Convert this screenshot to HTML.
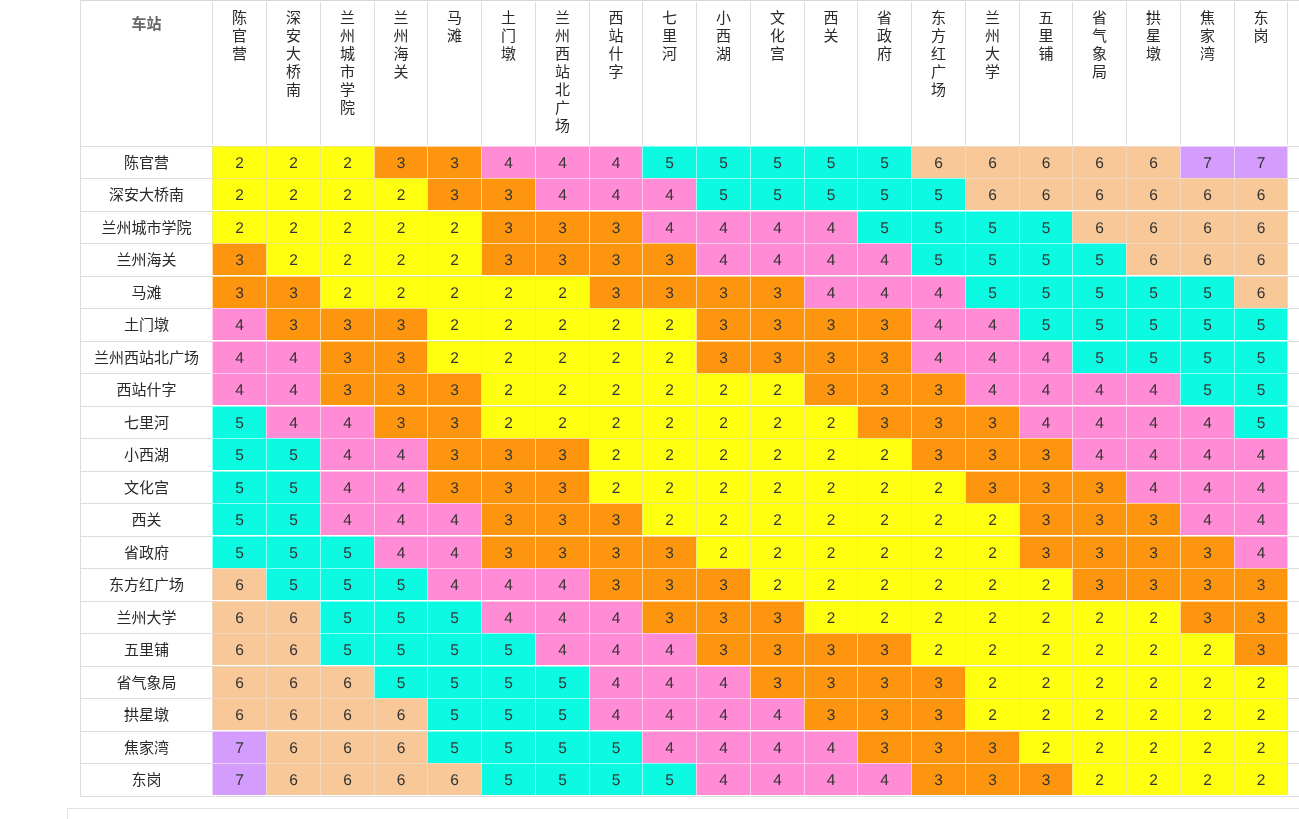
<!DOCTYPE html><html lang="zh-CN"><head><meta charset="utf-8"><title>票价表</title><style>
html,body{margin:0;padding:0;background:#fff;}
body{width:1299px;height:819px;overflow:hidden;position:relative;font-family:"Liberation Sans","Noto Sans CJK SC",sans-serif;color:#333;font-size:15px;}
#t div{position:absolute;text-align:center;white-space:nowrap;}
#t .h{color:#2a2a2a;top:2px;height:143px;border-left:1px solid #ddd;box-sizing:border-box;}
#t .h span{display:block;width:16px;margin:7px auto 0;line-height:18px;white-space:normal;word-break:break-all;}
#t .h0{left:81px;top:1px;width:131px;height:145px;font-weight:bold;color:#666;line-height:20px;}
#t .h0 span{display:block;margin-top:13px;}
#t .r{color:#2a2a2a;left:81px;width:131px;line-height:31px;height:32px;}
#t .c{text-rendering:geometricPrecision;font-size:15.5px;box-sizing:border-box;border-style:solid;border-width:1px 0 0 1px;}
#t .c.l{border-right-width:1px;}
.f2{background:#ffff10;border-color:#ebeb73;}
.f3{background:#fd960e;border-color:#ffd591;}
.f4{background:#ff8cd4;border-color:#ffc8ec;}
.f5{background:#0cfae2;border-color:#8cfff6;}
.f6{background:#f8c898;border-color:#f1d9c1;}
.f7{background:#d49cfc;border-color:#ebcfff;}
#t .lh{left:80px;width:1219px;height:1px;background:#ddd;}
#t .lh.t{background:#d8d8d8;}
#t .lv{left:80px;top:0;width:1px;height:797px;background:#ddd;}
#box{position:absolute;left:67px;top:808px;width:1300px;height:40px;border:1px solid #e3e3e3;}
</style></head><body><div id="t">
<div class="h0"><span>车站</span></div>
<div class="h" style="left:212px;width:54px"><span>陈官营</span></div>
<div class="h" style="left:266px;width:54px"><span>深安大桥南</span></div>
<div class="h" style="left:320px;width:54px"><span>兰州城市学院</span></div>
<div class="h" style="left:374px;width:53px"><span>兰州海关</span></div>
<div class="h" style="left:427px;width:54px"><span>马滩</span></div>
<div class="h" style="left:481px;width:54px"><span>土门墩</span></div>
<div class="h" style="left:535px;width:54px"><span>兰州西站北广场</span></div>
<div class="h" style="left:589px;width:53px"><span>西站什字</span></div>
<div class="h" style="left:642px;width:54px"><span>七里河</span></div>
<div class="h" style="left:696px;width:54px"><span>小西湖</span></div>
<div class="h" style="left:750px;width:54px"><span>文化宫</span></div>
<div class="h" style="left:804px;width:53px"><span>西关</span></div>
<div class="h" style="left:857px;width:54px"><span>省政府</span></div>
<div class="h" style="left:911px;width:54px"><span>东方红广场</span></div>
<div class="h" style="left:965px;width:54px"><span>兰州大学</span></div>
<div class="h" style="left:1019px;width:53px"><span>五里铺</span></div>
<div class="h" style="left:1072px;width:54px"><span>省气象局</span></div>
<div class="h" style="left:1126px;width:54px"><span>拱星墩</span></div>
<div class="h" style="left:1180px;width:54px"><span>焦家湾</span></div>
<div class="h" style="left:1234px;width:53px"><span>东岗</span></div>
<div class="h" style="left:1287px;width:1px"></div>
<div class="lh t" style="top:0px"></div>
<div class="lh" style="top:146px"></div>
<div class="lh" style="top:178px"></div>
<div class="lh" style="top:211px"></div>
<div class="lh" style="top:243px"></div>
<div class="lh" style="top:276px"></div>
<div class="lh" style="top:308px"></div>
<div class="lh" style="top:341px"></div>
<div class="lh" style="top:373px"></div>
<div class="lh" style="top:406px"></div>
<div class="lh" style="top:438px"></div>
<div class="lh" style="top:471px"></div>
<div class="lh" style="top:503px"></div>
<div class="lh" style="top:536px"></div>
<div class="lh" style="top:568px"></div>
<div class="lh" style="top:601px"></div>
<div class="lh" style="top:633px"></div>
<div class="lh" style="top:666px"></div>
<div class="lh" style="top:698px"></div>
<div class="lh" style="top:731px"></div>
<div class="lh" style="top:763px"></div>
<div class="lh" style="top:796px"></div>
<div class="r" style="top:147px;height:31px;line-height:31px">陈官营</div>
<div class="c f2" style="left:212px;top:146px;width:54px;height:32px;line-height:33px">2</div>
<div class="c f2" style="left:266px;top:146px;width:54px;height:32px;line-height:33px">2</div>
<div class="c f2" style="left:320px;top:146px;width:54px;height:32px;line-height:33px">2</div>
<div class="c f3" style="left:374px;top:146px;width:53px;height:32px;line-height:33px">3</div>
<div class="c f3" style="left:427px;top:146px;width:54px;height:32px;line-height:33px">3</div>
<div class="c f4" style="left:481px;top:146px;width:54px;height:32px;line-height:33px">4</div>
<div class="c f4" style="left:535px;top:146px;width:54px;height:32px;line-height:33px">4</div>
<div class="c f4" style="left:589px;top:146px;width:53px;height:32px;line-height:33px">4</div>
<div class="c f5" style="left:642px;top:146px;width:54px;height:32px;line-height:33px">5</div>
<div class="c f5" style="left:696px;top:146px;width:54px;height:32px;line-height:33px">5</div>
<div class="c f5" style="left:750px;top:146px;width:54px;height:32px;line-height:33px">5</div>
<div class="c f5" style="left:804px;top:146px;width:53px;height:32px;line-height:33px">5</div>
<div class="c f5" style="left:857px;top:146px;width:54px;height:32px;line-height:33px">5</div>
<div class="c f6" style="left:911px;top:146px;width:54px;height:32px;line-height:33px">6</div>
<div class="c f6" style="left:965px;top:146px;width:54px;height:32px;line-height:33px">6</div>
<div class="c f6" style="left:1019px;top:146px;width:53px;height:32px;line-height:33px">6</div>
<div class="c f6" style="left:1072px;top:146px;width:54px;height:32px;line-height:33px">6</div>
<div class="c f6" style="left:1126px;top:146px;width:54px;height:32px;line-height:33px">6</div>
<div class="c f7" style="left:1180px;top:146px;width:54px;height:32px;line-height:33px">7</div>
<div class="c f7 l" style="left:1234px;top:146px;width:54px;height:32px;line-height:33px">7</div>
<div class="r" style="top:179px;height:32px;line-height:32px">深安大桥南</div>
<div class="c f2" style="left:212px;top:178px;width:54px;height:32px;line-height:34px">2</div>
<div class="c f2" style="left:266px;top:178px;width:54px;height:32px;line-height:34px">2</div>
<div class="c f2" style="left:320px;top:178px;width:54px;height:32px;line-height:34px">2</div>
<div class="c f2" style="left:374px;top:178px;width:53px;height:32px;line-height:34px">2</div>
<div class="c f3" style="left:427px;top:178px;width:54px;height:32px;line-height:34px">3</div>
<div class="c f3" style="left:481px;top:178px;width:54px;height:32px;line-height:34px">3</div>
<div class="c f4" style="left:535px;top:178px;width:54px;height:32px;line-height:34px">4</div>
<div class="c f4" style="left:589px;top:178px;width:53px;height:32px;line-height:34px">4</div>
<div class="c f4" style="left:642px;top:178px;width:54px;height:32px;line-height:34px">4</div>
<div class="c f5" style="left:696px;top:178px;width:54px;height:32px;line-height:34px">5</div>
<div class="c f5" style="left:750px;top:178px;width:54px;height:32px;line-height:34px">5</div>
<div class="c f5" style="left:804px;top:178px;width:53px;height:32px;line-height:34px">5</div>
<div class="c f5" style="left:857px;top:178px;width:54px;height:32px;line-height:34px">5</div>
<div class="c f5" style="left:911px;top:178px;width:54px;height:32px;line-height:34px">5</div>
<div class="c f6" style="left:965px;top:178px;width:54px;height:32px;line-height:34px">6</div>
<div class="c f6" style="left:1019px;top:178px;width:53px;height:32px;line-height:34px">6</div>
<div class="c f6" style="left:1072px;top:178px;width:54px;height:32px;line-height:34px">6</div>
<div class="c f6" style="left:1126px;top:178px;width:54px;height:32px;line-height:34px">6</div>
<div class="c f6" style="left:1180px;top:178px;width:54px;height:32px;line-height:34px">6</div>
<div class="c f6 l" style="left:1234px;top:178px;width:54px;height:32px;line-height:34px">6</div>
<div class="r" style="top:212px;height:31px;line-height:31px">兰州城市学院</div>
<div class="c f2" style="left:212px;top:211px;width:54px;height:32px;line-height:33px">2</div>
<div class="c f2" style="left:266px;top:211px;width:54px;height:32px;line-height:33px">2</div>
<div class="c f2" style="left:320px;top:211px;width:54px;height:32px;line-height:33px">2</div>
<div class="c f2" style="left:374px;top:211px;width:53px;height:32px;line-height:33px">2</div>
<div class="c f2" style="left:427px;top:211px;width:54px;height:32px;line-height:33px">2</div>
<div class="c f3" style="left:481px;top:211px;width:54px;height:32px;line-height:33px">3</div>
<div class="c f3" style="left:535px;top:211px;width:54px;height:32px;line-height:33px">3</div>
<div class="c f3" style="left:589px;top:211px;width:53px;height:32px;line-height:33px">3</div>
<div class="c f4" style="left:642px;top:211px;width:54px;height:32px;line-height:33px">4</div>
<div class="c f4" style="left:696px;top:211px;width:54px;height:32px;line-height:33px">4</div>
<div class="c f4" style="left:750px;top:211px;width:54px;height:32px;line-height:33px">4</div>
<div class="c f4" style="left:804px;top:211px;width:53px;height:32px;line-height:33px">4</div>
<div class="c f5" style="left:857px;top:211px;width:54px;height:32px;line-height:33px">5</div>
<div class="c f5" style="left:911px;top:211px;width:54px;height:32px;line-height:33px">5</div>
<div class="c f5" style="left:965px;top:211px;width:54px;height:32px;line-height:33px">5</div>
<div class="c f5" style="left:1019px;top:211px;width:53px;height:32px;line-height:33px">5</div>
<div class="c f6" style="left:1072px;top:211px;width:54px;height:32px;line-height:33px">6</div>
<div class="c f6" style="left:1126px;top:211px;width:54px;height:32px;line-height:33px">6</div>
<div class="c f6" style="left:1180px;top:211px;width:54px;height:32px;line-height:33px">6</div>
<div class="c f6 l" style="left:1234px;top:211px;width:54px;height:32px;line-height:33px">6</div>
<div class="r" style="top:244px;height:32px;line-height:32px">兰州海关</div>
<div class="c f3" style="left:212px;top:243px;width:54px;height:32px;line-height:34px">3</div>
<div class="c f2" style="left:266px;top:243px;width:54px;height:32px;line-height:34px">2</div>
<div class="c f2" style="left:320px;top:243px;width:54px;height:32px;line-height:34px">2</div>
<div class="c f2" style="left:374px;top:243px;width:53px;height:32px;line-height:34px">2</div>
<div class="c f2" style="left:427px;top:243px;width:54px;height:32px;line-height:34px">2</div>
<div class="c f3" style="left:481px;top:243px;width:54px;height:32px;line-height:34px">3</div>
<div class="c f3" style="left:535px;top:243px;width:54px;height:32px;line-height:34px">3</div>
<div class="c f3" style="left:589px;top:243px;width:53px;height:32px;line-height:34px">3</div>
<div class="c f3" style="left:642px;top:243px;width:54px;height:32px;line-height:34px">3</div>
<div class="c f4" style="left:696px;top:243px;width:54px;height:32px;line-height:34px">4</div>
<div class="c f4" style="left:750px;top:243px;width:54px;height:32px;line-height:34px">4</div>
<div class="c f4" style="left:804px;top:243px;width:53px;height:32px;line-height:34px">4</div>
<div class="c f4" style="left:857px;top:243px;width:54px;height:32px;line-height:34px">4</div>
<div class="c f5" style="left:911px;top:243px;width:54px;height:32px;line-height:34px">5</div>
<div class="c f5" style="left:965px;top:243px;width:54px;height:32px;line-height:34px">5</div>
<div class="c f5" style="left:1019px;top:243px;width:53px;height:32px;line-height:34px">5</div>
<div class="c f5" style="left:1072px;top:243px;width:54px;height:32px;line-height:34px">5</div>
<div class="c f6" style="left:1126px;top:243px;width:54px;height:32px;line-height:34px">6</div>
<div class="c f6" style="left:1180px;top:243px;width:54px;height:32px;line-height:34px">6</div>
<div class="c f6 l" style="left:1234px;top:243px;width:54px;height:32px;line-height:34px">6</div>
<div class="r" style="top:277px;height:31px;line-height:31px">马滩</div>
<div class="c f3" style="left:212px;top:276px;width:54px;height:32px;line-height:33px">3</div>
<div class="c f3" style="left:266px;top:276px;width:54px;height:32px;line-height:33px">3</div>
<div class="c f2" style="left:320px;top:276px;width:54px;height:32px;line-height:33px">2</div>
<div class="c f2" style="left:374px;top:276px;width:53px;height:32px;line-height:33px">2</div>
<div class="c f2" style="left:427px;top:276px;width:54px;height:32px;line-height:33px">2</div>
<div class="c f2" style="left:481px;top:276px;width:54px;height:32px;line-height:33px">2</div>
<div class="c f2" style="left:535px;top:276px;width:54px;height:32px;line-height:33px">2</div>
<div class="c f3" style="left:589px;top:276px;width:53px;height:32px;line-height:33px">3</div>
<div class="c f3" style="left:642px;top:276px;width:54px;height:32px;line-height:33px">3</div>
<div class="c f3" style="left:696px;top:276px;width:54px;height:32px;line-height:33px">3</div>
<div class="c f3" style="left:750px;top:276px;width:54px;height:32px;line-height:33px">3</div>
<div class="c f4" style="left:804px;top:276px;width:53px;height:32px;line-height:33px">4</div>
<div class="c f4" style="left:857px;top:276px;width:54px;height:32px;line-height:33px">4</div>
<div class="c f4" style="left:911px;top:276px;width:54px;height:32px;line-height:33px">4</div>
<div class="c f5" style="left:965px;top:276px;width:54px;height:32px;line-height:33px">5</div>
<div class="c f5" style="left:1019px;top:276px;width:53px;height:32px;line-height:33px">5</div>
<div class="c f5" style="left:1072px;top:276px;width:54px;height:32px;line-height:33px">5</div>
<div class="c f5" style="left:1126px;top:276px;width:54px;height:32px;line-height:33px">5</div>
<div class="c f5" style="left:1180px;top:276px;width:54px;height:32px;line-height:33px">5</div>
<div class="c f6 l" style="left:1234px;top:276px;width:54px;height:32px;line-height:33px">6</div>
<div class="r" style="top:309px;height:32px;line-height:32px">土门墩</div>
<div class="c f4" style="left:212px;top:308px;width:54px;height:32px;line-height:34px">4</div>
<div class="c f3" style="left:266px;top:308px;width:54px;height:32px;line-height:34px">3</div>
<div class="c f3" style="left:320px;top:308px;width:54px;height:32px;line-height:34px">3</div>
<div class="c f3" style="left:374px;top:308px;width:53px;height:32px;line-height:34px">3</div>
<div class="c f2" style="left:427px;top:308px;width:54px;height:32px;line-height:34px">2</div>
<div class="c f2" style="left:481px;top:308px;width:54px;height:32px;line-height:34px">2</div>
<div class="c f2" style="left:535px;top:308px;width:54px;height:32px;line-height:34px">2</div>
<div class="c f2" style="left:589px;top:308px;width:53px;height:32px;line-height:34px">2</div>
<div class="c f2" style="left:642px;top:308px;width:54px;height:32px;line-height:34px">2</div>
<div class="c f3" style="left:696px;top:308px;width:54px;height:32px;line-height:34px">3</div>
<div class="c f3" style="left:750px;top:308px;width:54px;height:32px;line-height:34px">3</div>
<div class="c f3" style="left:804px;top:308px;width:53px;height:32px;line-height:34px">3</div>
<div class="c f3" style="left:857px;top:308px;width:54px;height:32px;line-height:34px">3</div>
<div class="c f4" style="left:911px;top:308px;width:54px;height:32px;line-height:34px">4</div>
<div class="c f4" style="left:965px;top:308px;width:54px;height:32px;line-height:34px">4</div>
<div class="c f5" style="left:1019px;top:308px;width:53px;height:32px;line-height:34px">5</div>
<div class="c f5" style="left:1072px;top:308px;width:54px;height:32px;line-height:34px">5</div>
<div class="c f5" style="left:1126px;top:308px;width:54px;height:32px;line-height:34px">5</div>
<div class="c f5" style="left:1180px;top:308px;width:54px;height:32px;line-height:34px">5</div>
<div class="c f5 l" style="left:1234px;top:308px;width:54px;height:32px;line-height:34px">5</div>
<div class="r" style="top:342px;height:31px;line-height:31px">兰州西站北广场</div>
<div class="c f4" style="left:212px;top:341px;width:54px;height:32px;line-height:33px">4</div>
<div class="c f4" style="left:266px;top:341px;width:54px;height:32px;line-height:33px">4</div>
<div class="c f3" style="left:320px;top:341px;width:54px;height:32px;line-height:33px">3</div>
<div class="c f3" style="left:374px;top:341px;width:53px;height:32px;line-height:33px">3</div>
<div class="c f2" style="left:427px;top:341px;width:54px;height:32px;line-height:33px">2</div>
<div class="c f2" style="left:481px;top:341px;width:54px;height:32px;line-height:33px">2</div>
<div class="c f2" style="left:535px;top:341px;width:54px;height:32px;line-height:33px">2</div>
<div class="c f2" style="left:589px;top:341px;width:53px;height:32px;line-height:33px">2</div>
<div class="c f2" style="left:642px;top:341px;width:54px;height:32px;line-height:33px">2</div>
<div class="c f3" style="left:696px;top:341px;width:54px;height:32px;line-height:33px">3</div>
<div class="c f3" style="left:750px;top:341px;width:54px;height:32px;line-height:33px">3</div>
<div class="c f3" style="left:804px;top:341px;width:53px;height:32px;line-height:33px">3</div>
<div class="c f3" style="left:857px;top:341px;width:54px;height:32px;line-height:33px">3</div>
<div class="c f4" style="left:911px;top:341px;width:54px;height:32px;line-height:33px">4</div>
<div class="c f4" style="left:965px;top:341px;width:54px;height:32px;line-height:33px">4</div>
<div class="c f4" style="left:1019px;top:341px;width:53px;height:32px;line-height:33px">4</div>
<div class="c f5" style="left:1072px;top:341px;width:54px;height:32px;line-height:33px">5</div>
<div class="c f5" style="left:1126px;top:341px;width:54px;height:32px;line-height:33px">5</div>
<div class="c f5" style="left:1180px;top:341px;width:54px;height:32px;line-height:33px">5</div>
<div class="c f5 l" style="left:1234px;top:341px;width:54px;height:32px;line-height:33px">5</div>
<div class="r" style="top:374px;height:32px;line-height:32px">西站什字</div>
<div class="c f4" style="left:212px;top:373px;width:54px;height:32px;line-height:34px">4</div>
<div class="c f4" style="left:266px;top:373px;width:54px;height:32px;line-height:34px">4</div>
<div class="c f3" style="left:320px;top:373px;width:54px;height:32px;line-height:34px">3</div>
<div class="c f3" style="left:374px;top:373px;width:53px;height:32px;line-height:34px">3</div>
<div class="c f3" style="left:427px;top:373px;width:54px;height:32px;line-height:34px">3</div>
<div class="c f2" style="left:481px;top:373px;width:54px;height:32px;line-height:34px">2</div>
<div class="c f2" style="left:535px;top:373px;width:54px;height:32px;line-height:34px">2</div>
<div class="c f2" style="left:589px;top:373px;width:53px;height:32px;line-height:34px">2</div>
<div class="c f2" style="left:642px;top:373px;width:54px;height:32px;line-height:34px">2</div>
<div class="c f2" style="left:696px;top:373px;width:54px;height:32px;line-height:34px">2</div>
<div class="c f2" style="left:750px;top:373px;width:54px;height:32px;line-height:34px">2</div>
<div class="c f3" style="left:804px;top:373px;width:53px;height:32px;line-height:34px">3</div>
<div class="c f3" style="left:857px;top:373px;width:54px;height:32px;line-height:34px">3</div>
<div class="c f3" style="left:911px;top:373px;width:54px;height:32px;line-height:34px">3</div>
<div class="c f4" style="left:965px;top:373px;width:54px;height:32px;line-height:34px">4</div>
<div class="c f4" style="left:1019px;top:373px;width:53px;height:32px;line-height:34px">4</div>
<div class="c f4" style="left:1072px;top:373px;width:54px;height:32px;line-height:34px">4</div>
<div class="c f4" style="left:1126px;top:373px;width:54px;height:32px;line-height:34px">4</div>
<div class="c f5" style="left:1180px;top:373px;width:54px;height:32px;line-height:34px">5</div>
<div class="c f5 l" style="left:1234px;top:373px;width:54px;height:32px;line-height:34px">5</div>
<div class="r" style="top:407px;height:31px;line-height:31px">七里河</div>
<div class="c f5" style="left:212px;top:406px;width:54px;height:32px;line-height:33px">5</div>
<div class="c f4" style="left:266px;top:406px;width:54px;height:32px;line-height:33px">4</div>
<div class="c f4" style="left:320px;top:406px;width:54px;height:32px;line-height:33px">4</div>
<div class="c f3" style="left:374px;top:406px;width:53px;height:32px;line-height:33px">3</div>
<div class="c f3" style="left:427px;top:406px;width:54px;height:32px;line-height:33px">3</div>
<div class="c f2" style="left:481px;top:406px;width:54px;height:32px;line-height:33px">2</div>
<div class="c f2" style="left:535px;top:406px;width:54px;height:32px;line-height:33px">2</div>
<div class="c f2" style="left:589px;top:406px;width:53px;height:32px;line-height:33px">2</div>
<div class="c f2" style="left:642px;top:406px;width:54px;height:32px;line-height:33px">2</div>
<div class="c f2" style="left:696px;top:406px;width:54px;height:32px;line-height:33px">2</div>
<div class="c f2" style="left:750px;top:406px;width:54px;height:32px;line-height:33px">2</div>
<div class="c f2" style="left:804px;top:406px;width:53px;height:32px;line-height:33px">2</div>
<div class="c f3" style="left:857px;top:406px;width:54px;height:32px;line-height:33px">3</div>
<div class="c f3" style="left:911px;top:406px;width:54px;height:32px;line-height:33px">3</div>
<div class="c f3" style="left:965px;top:406px;width:54px;height:32px;line-height:33px">3</div>
<div class="c f4" style="left:1019px;top:406px;width:53px;height:32px;line-height:33px">4</div>
<div class="c f4" style="left:1072px;top:406px;width:54px;height:32px;line-height:33px">4</div>
<div class="c f4" style="left:1126px;top:406px;width:54px;height:32px;line-height:33px">4</div>
<div class="c f4" style="left:1180px;top:406px;width:54px;height:32px;line-height:33px">4</div>
<div class="c f5 l" style="left:1234px;top:406px;width:54px;height:32px;line-height:33px">5</div>
<div class="r" style="top:439px;height:32px;line-height:32px">小西湖</div>
<div class="c f5" style="left:212px;top:438px;width:54px;height:32px;line-height:34px">5</div>
<div class="c f5" style="left:266px;top:438px;width:54px;height:32px;line-height:34px">5</div>
<div class="c f4" style="left:320px;top:438px;width:54px;height:32px;line-height:34px">4</div>
<div class="c f4" style="left:374px;top:438px;width:53px;height:32px;line-height:34px">4</div>
<div class="c f3" style="left:427px;top:438px;width:54px;height:32px;line-height:34px">3</div>
<div class="c f3" style="left:481px;top:438px;width:54px;height:32px;line-height:34px">3</div>
<div class="c f3" style="left:535px;top:438px;width:54px;height:32px;line-height:34px">3</div>
<div class="c f2" style="left:589px;top:438px;width:53px;height:32px;line-height:34px">2</div>
<div class="c f2" style="left:642px;top:438px;width:54px;height:32px;line-height:34px">2</div>
<div class="c f2" style="left:696px;top:438px;width:54px;height:32px;line-height:34px">2</div>
<div class="c f2" style="left:750px;top:438px;width:54px;height:32px;line-height:34px">2</div>
<div class="c f2" style="left:804px;top:438px;width:53px;height:32px;line-height:34px">2</div>
<div class="c f2" style="left:857px;top:438px;width:54px;height:32px;line-height:34px">2</div>
<div class="c f3" style="left:911px;top:438px;width:54px;height:32px;line-height:34px">3</div>
<div class="c f3" style="left:965px;top:438px;width:54px;height:32px;line-height:34px">3</div>
<div class="c f3" style="left:1019px;top:438px;width:53px;height:32px;line-height:34px">3</div>
<div class="c f4" style="left:1072px;top:438px;width:54px;height:32px;line-height:34px">4</div>
<div class="c f4" style="left:1126px;top:438px;width:54px;height:32px;line-height:34px">4</div>
<div class="c f4" style="left:1180px;top:438px;width:54px;height:32px;line-height:34px">4</div>
<div class="c f4 l" style="left:1234px;top:438px;width:54px;height:32px;line-height:34px">4</div>
<div class="r" style="top:472px;height:31px;line-height:31px">文化宫</div>
<div class="c f5" style="left:212px;top:471px;width:54px;height:32px;line-height:33px">5</div>
<div class="c f5" style="left:266px;top:471px;width:54px;height:32px;line-height:33px">5</div>
<div class="c f4" style="left:320px;top:471px;width:54px;height:32px;line-height:33px">4</div>
<div class="c f4" style="left:374px;top:471px;width:53px;height:32px;line-height:33px">4</div>
<div class="c f3" style="left:427px;top:471px;width:54px;height:32px;line-height:33px">3</div>
<div class="c f3" style="left:481px;top:471px;width:54px;height:32px;line-height:33px">3</div>
<div class="c f3" style="left:535px;top:471px;width:54px;height:32px;line-height:33px">3</div>
<div class="c f2" style="left:589px;top:471px;width:53px;height:32px;line-height:33px">2</div>
<div class="c f2" style="left:642px;top:471px;width:54px;height:32px;line-height:33px">2</div>
<div class="c f2" style="left:696px;top:471px;width:54px;height:32px;line-height:33px">2</div>
<div class="c f2" style="left:750px;top:471px;width:54px;height:32px;line-height:33px">2</div>
<div class="c f2" style="left:804px;top:471px;width:53px;height:32px;line-height:33px">2</div>
<div class="c f2" style="left:857px;top:471px;width:54px;height:32px;line-height:33px">2</div>
<div class="c f2" style="left:911px;top:471px;width:54px;height:32px;line-height:33px">2</div>
<div class="c f3" style="left:965px;top:471px;width:54px;height:32px;line-height:33px">3</div>
<div class="c f3" style="left:1019px;top:471px;width:53px;height:32px;line-height:33px">3</div>
<div class="c f3" style="left:1072px;top:471px;width:54px;height:32px;line-height:33px">3</div>
<div class="c f4" style="left:1126px;top:471px;width:54px;height:32px;line-height:33px">4</div>
<div class="c f4" style="left:1180px;top:471px;width:54px;height:32px;line-height:33px">4</div>
<div class="c f4 l" style="left:1234px;top:471px;width:54px;height:32px;line-height:33px">4</div>
<div class="r" style="top:504px;height:32px;line-height:32px">西关</div>
<div class="c f5" style="left:212px;top:503px;width:54px;height:32px;line-height:34px">5</div>
<div class="c f5" style="left:266px;top:503px;width:54px;height:32px;line-height:34px">5</div>
<div class="c f4" style="left:320px;top:503px;width:54px;height:32px;line-height:34px">4</div>
<div class="c f4" style="left:374px;top:503px;width:53px;height:32px;line-height:34px">4</div>
<div class="c f4" style="left:427px;top:503px;width:54px;height:32px;line-height:34px">4</div>
<div class="c f3" style="left:481px;top:503px;width:54px;height:32px;line-height:34px">3</div>
<div class="c f3" style="left:535px;top:503px;width:54px;height:32px;line-height:34px">3</div>
<div class="c f3" style="left:589px;top:503px;width:53px;height:32px;line-height:34px">3</div>
<div class="c f2" style="left:642px;top:503px;width:54px;height:32px;line-height:34px">2</div>
<div class="c f2" style="left:696px;top:503px;width:54px;height:32px;line-height:34px">2</div>
<div class="c f2" style="left:750px;top:503px;width:54px;height:32px;line-height:34px">2</div>
<div class="c f2" style="left:804px;top:503px;width:53px;height:32px;line-height:34px">2</div>
<div class="c f2" style="left:857px;top:503px;width:54px;height:32px;line-height:34px">2</div>
<div class="c f2" style="left:911px;top:503px;width:54px;height:32px;line-height:34px">2</div>
<div class="c f2" style="left:965px;top:503px;width:54px;height:32px;line-height:34px">2</div>
<div class="c f3" style="left:1019px;top:503px;width:53px;height:32px;line-height:34px">3</div>
<div class="c f3" style="left:1072px;top:503px;width:54px;height:32px;line-height:34px">3</div>
<div class="c f3" style="left:1126px;top:503px;width:54px;height:32px;line-height:34px">3</div>
<div class="c f4" style="left:1180px;top:503px;width:54px;height:32px;line-height:34px">4</div>
<div class="c f4 l" style="left:1234px;top:503px;width:54px;height:32px;line-height:34px">4</div>
<div class="r" style="top:537px;height:31px;line-height:31px">省政府</div>
<div class="c f5" style="left:212px;top:536px;width:54px;height:32px;line-height:33px">5</div>
<div class="c f5" style="left:266px;top:536px;width:54px;height:32px;line-height:33px">5</div>
<div class="c f5" style="left:320px;top:536px;width:54px;height:32px;line-height:33px">5</div>
<div class="c f4" style="left:374px;top:536px;width:53px;height:32px;line-height:33px">4</div>
<div class="c f4" style="left:427px;top:536px;width:54px;height:32px;line-height:33px">4</div>
<div class="c f3" style="left:481px;top:536px;width:54px;height:32px;line-height:33px">3</div>
<div class="c f3" style="left:535px;top:536px;width:54px;height:32px;line-height:33px">3</div>
<div class="c f3" style="left:589px;top:536px;width:53px;height:32px;line-height:33px">3</div>
<div class="c f3" style="left:642px;top:536px;width:54px;height:32px;line-height:33px">3</div>
<div class="c f2" style="left:696px;top:536px;width:54px;height:32px;line-height:33px">2</div>
<div class="c f2" style="left:750px;top:536px;width:54px;height:32px;line-height:33px">2</div>
<div class="c f2" style="left:804px;top:536px;width:53px;height:32px;line-height:33px">2</div>
<div class="c f2" style="left:857px;top:536px;width:54px;height:32px;line-height:33px">2</div>
<div class="c f2" style="left:911px;top:536px;width:54px;height:32px;line-height:33px">2</div>
<div class="c f2" style="left:965px;top:536px;width:54px;height:32px;line-height:33px">2</div>
<div class="c f3" style="left:1019px;top:536px;width:53px;height:32px;line-height:33px">3</div>
<div class="c f3" style="left:1072px;top:536px;width:54px;height:32px;line-height:33px">3</div>
<div class="c f3" style="left:1126px;top:536px;width:54px;height:32px;line-height:33px">3</div>
<div class="c f3" style="left:1180px;top:536px;width:54px;height:32px;line-height:33px">3</div>
<div class="c f4 l" style="left:1234px;top:536px;width:54px;height:32px;line-height:33px">4</div>
<div class="r" style="top:569px;height:32px;line-height:32px">东方红广场</div>
<div class="c f6" style="left:212px;top:568px;width:54px;height:32px;line-height:34px">6</div>
<div class="c f5" style="left:266px;top:568px;width:54px;height:32px;line-height:34px">5</div>
<div class="c f5" style="left:320px;top:568px;width:54px;height:32px;line-height:34px">5</div>
<div class="c f5" style="left:374px;top:568px;width:53px;height:32px;line-height:34px">5</div>
<div class="c f4" style="left:427px;top:568px;width:54px;height:32px;line-height:34px">4</div>
<div class="c f4" style="left:481px;top:568px;width:54px;height:32px;line-height:34px">4</div>
<div class="c f4" style="left:535px;top:568px;width:54px;height:32px;line-height:34px">4</div>
<div class="c f3" style="left:589px;top:568px;width:53px;height:32px;line-height:34px">3</div>
<div class="c f3" style="left:642px;top:568px;width:54px;height:32px;line-height:34px">3</div>
<div class="c f3" style="left:696px;top:568px;width:54px;height:32px;line-height:34px">3</div>
<div class="c f2" style="left:750px;top:568px;width:54px;height:32px;line-height:34px">2</div>
<div class="c f2" style="left:804px;top:568px;width:53px;height:32px;line-height:34px">2</div>
<div class="c f2" style="left:857px;top:568px;width:54px;height:32px;line-height:34px">2</div>
<div class="c f2" style="left:911px;top:568px;width:54px;height:32px;line-height:34px">2</div>
<div class="c f2" style="left:965px;top:568px;width:54px;height:32px;line-height:34px">2</div>
<div class="c f2" style="left:1019px;top:568px;width:53px;height:32px;line-height:34px">2</div>
<div class="c f3" style="left:1072px;top:568px;width:54px;height:32px;line-height:34px">3</div>
<div class="c f3" style="left:1126px;top:568px;width:54px;height:32px;line-height:34px">3</div>
<div class="c f3" style="left:1180px;top:568px;width:54px;height:32px;line-height:34px">3</div>
<div class="c f3 l" style="left:1234px;top:568px;width:54px;height:32px;line-height:34px">3</div>
<div class="r" style="top:602px;height:31px;line-height:31px">兰州大学</div>
<div class="c f6" style="left:212px;top:601px;width:54px;height:32px;line-height:33px">6</div>
<div class="c f6" style="left:266px;top:601px;width:54px;height:32px;line-height:33px">6</div>
<div class="c f5" style="left:320px;top:601px;width:54px;height:32px;line-height:33px">5</div>
<div class="c f5" style="left:374px;top:601px;width:53px;height:32px;line-height:33px">5</div>
<div class="c f5" style="left:427px;top:601px;width:54px;height:32px;line-height:33px">5</div>
<div class="c f4" style="left:481px;top:601px;width:54px;height:32px;line-height:33px">4</div>
<div class="c f4" style="left:535px;top:601px;width:54px;height:32px;line-height:33px">4</div>
<div class="c f4" style="left:589px;top:601px;width:53px;height:32px;line-height:33px">4</div>
<div class="c f3" style="left:642px;top:601px;width:54px;height:32px;line-height:33px">3</div>
<div class="c f3" style="left:696px;top:601px;width:54px;height:32px;line-height:33px">3</div>
<div class="c f3" style="left:750px;top:601px;width:54px;height:32px;line-height:33px">3</div>
<div class="c f2" style="left:804px;top:601px;width:53px;height:32px;line-height:33px">2</div>
<div class="c f2" style="left:857px;top:601px;width:54px;height:32px;line-height:33px">2</div>
<div class="c f2" style="left:911px;top:601px;width:54px;height:32px;line-height:33px">2</div>
<div class="c f2" style="left:965px;top:601px;width:54px;height:32px;line-height:33px">2</div>
<div class="c f2" style="left:1019px;top:601px;width:53px;height:32px;line-height:33px">2</div>
<div class="c f2" style="left:1072px;top:601px;width:54px;height:32px;line-height:33px">2</div>
<div class="c f2" style="left:1126px;top:601px;width:54px;height:32px;line-height:33px">2</div>
<div class="c f3" style="left:1180px;top:601px;width:54px;height:32px;line-height:33px">3</div>
<div class="c f3 l" style="left:1234px;top:601px;width:54px;height:32px;line-height:33px">3</div>
<div class="r" style="top:634px;height:32px;line-height:32px">五里铺</div>
<div class="c f6" style="left:212px;top:633px;width:54px;height:32px;line-height:34px">6</div>
<div class="c f6" style="left:266px;top:633px;width:54px;height:32px;line-height:34px">6</div>
<div class="c f5" style="left:320px;top:633px;width:54px;height:32px;line-height:34px">5</div>
<div class="c f5" style="left:374px;top:633px;width:53px;height:32px;line-height:34px">5</div>
<div class="c f5" style="left:427px;top:633px;width:54px;height:32px;line-height:34px">5</div>
<div class="c f5" style="left:481px;top:633px;width:54px;height:32px;line-height:34px">5</div>
<div class="c f4" style="left:535px;top:633px;width:54px;height:32px;line-height:34px">4</div>
<div class="c f4" style="left:589px;top:633px;width:53px;height:32px;line-height:34px">4</div>
<div class="c f4" style="left:642px;top:633px;width:54px;height:32px;line-height:34px">4</div>
<div class="c f3" style="left:696px;top:633px;width:54px;height:32px;line-height:34px">3</div>
<div class="c f3" style="left:750px;top:633px;width:54px;height:32px;line-height:34px">3</div>
<div class="c f3" style="left:804px;top:633px;width:53px;height:32px;line-height:34px">3</div>
<div class="c f3" style="left:857px;top:633px;width:54px;height:32px;line-height:34px">3</div>
<div class="c f2" style="left:911px;top:633px;width:54px;height:32px;line-height:34px">2</div>
<div class="c f2" style="left:965px;top:633px;width:54px;height:32px;line-height:34px">2</div>
<div class="c f2" style="left:1019px;top:633px;width:53px;height:32px;line-height:34px">2</div>
<div class="c f2" style="left:1072px;top:633px;width:54px;height:32px;line-height:34px">2</div>
<div class="c f2" style="left:1126px;top:633px;width:54px;height:32px;line-height:34px">2</div>
<div class="c f2" style="left:1180px;top:633px;width:54px;height:32px;line-height:34px">2</div>
<div class="c f3 l" style="left:1234px;top:633px;width:54px;height:32px;line-height:34px">3</div>
<div class="r" style="top:667px;height:31px;line-height:31px">省气象局</div>
<div class="c f6" style="left:212px;top:666px;width:54px;height:32px;line-height:33px">6</div>
<div class="c f6" style="left:266px;top:666px;width:54px;height:32px;line-height:33px">6</div>
<div class="c f6" style="left:320px;top:666px;width:54px;height:32px;line-height:33px">6</div>
<div class="c f5" style="left:374px;top:666px;width:53px;height:32px;line-height:33px">5</div>
<div class="c f5" style="left:427px;top:666px;width:54px;height:32px;line-height:33px">5</div>
<div class="c f5" style="left:481px;top:666px;width:54px;height:32px;line-height:33px">5</div>
<div class="c f5" style="left:535px;top:666px;width:54px;height:32px;line-height:33px">5</div>
<div class="c f4" style="left:589px;top:666px;width:53px;height:32px;line-height:33px">4</div>
<div class="c f4" style="left:642px;top:666px;width:54px;height:32px;line-height:33px">4</div>
<div class="c f4" style="left:696px;top:666px;width:54px;height:32px;line-height:33px">4</div>
<div class="c f3" style="left:750px;top:666px;width:54px;height:32px;line-height:33px">3</div>
<div class="c f3" style="left:804px;top:666px;width:53px;height:32px;line-height:33px">3</div>
<div class="c f3" style="left:857px;top:666px;width:54px;height:32px;line-height:33px">3</div>
<div class="c f3" style="left:911px;top:666px;width:54px;height:32px;line-height:33px">3</div>
<div class="c f2" style="left:965px;top:666px;width:54px;height:32px;line-height:33px">2</div>
<div class="c f2" style="left:1019px;top:666px;width:53px;height:32px;line-height:33px">2</div>
<div class="c f2" style="left:1072px;top:666px;width:54px;height:32px;line-height:33px">2</div>
<div class="c f2" style="left:1126px;top:666px;width:54px;height:32px;line-height:33px">2</div>
<div class="c f2" style="left:1180px;top:666px;width:54px;height:32px;line-height:33px">2</div>
<div class="c f2 l" style="left:1234px;top:666px;width:54px;height:32px;line-height:33px">2</div>
<div class="r" style="top:699px;height:32px;line-height:32px">拱星墩</div>
<div class="c f6" style="left:212px;top:698px;width:54px;height:32px;line-height:34px">6</div>
<div class="c f6" style="left:266px;top:698px;width:54px;height:32px;line-height:34px">6</div>
<div class="c f6" style="left:320px;top:698px;width:54px;height:32px;line-height:34px">6</div>
<div class="c f6" style="left:374px;top:698px;width:53px;height:32px;line-height:34px">6</div>
<div class="c f5" style="left:427px;top:698px;width:54px;height:32px;line-height:34px">5</div>
<div class="c f5" style="left:481px;top:698px;width:54px;height:32px;line-height:34px">5</div>
<div class="c f5" style="left:535px;top:698px;width:54px;height:32px;line-height:34px">5</div>
<div class="c f4" style="left:589px;top:698px;width:53px;height:32px;line-height:34px">4</div>
<div class="c f4" style="left:642px;top:698px;width:54px;height:32px;line-height:34px">4</div>
<div class="c f4" style="left:696px;top:698px;width:54px;height:32px;line-height:34px">4</div>
<div class="c f4" style="left:750px;top:698px;width:54px;height:32px;line-height:34px">4</div>
<div class="c f3" style="left:804px;top:698px;width:53px;height:32px;line-height:34px">3</div>
<div class="c f3" style="left:857px;top:698px;width:54px;height:32px;line-height:34px">3</div>
<div class="c f3" style="left:911px;top:698px;width:54px;height:32px;line-height:34px">3</div>
<div class="c f2" style="left:965px;top:698px;width:54px;height:32px;line-height:34px">2</div>
<div class="c f2" style="left:1019px;top:698px;width:53px;height:32px;line-height:34px">2</div>
<div class="c f2" style="left:1072px;top:698px;width:54px;height:32px;line-height:34px">2</div>
<div class="c f2" style="left:1126px;top:698px;width:54px;height:32px;line-height:34px">2</div>
<div class="c f2" style="left:1180px;top:698px;width:54px;height:32px;line-height:34px">2</div>
<div class="c f2 l" style="left:1234px;top:698px;width:54px;height:32px;line-height:34px">2</div>
<div class="r" style="top:732px;height:31px;line-height:31px">焦家湾</div>
<div class="c f7" style="left:212px;top:731px;width:54px;height:32px;line-height:33px">7</div>
<div class="c f6" style="left:266px;top:731px;width:54px;height:32px;line-height:33px">6</div>
<div class="c f6" style="left:320px;top:731px;width:54px;height:32px;line-height:33px">6</div>
<div class="c f6" style="left:374px;top:731px;width:53px;height:32px;line-height:33px">6</div>
<div class="c f5" style="left:427px;top:731px;width:54px;height:32px;line-height:33px">5</div>
<div class="c f5" style="left:481px;top:731px;width:54px;height:32px;line-height:33px">5</div>
<div class="c f5" style="left:535px;top:731px;width:54px;height:32px;line-height:33px">5</div>
<div class="c f5" style="left:589px;top:731px;width:53px;height:32px;line-height:33px">5</div>
<div class="c f4" style="left:642px;top:731px;width:54px;height:32px;line-height:33px">4</div>
<div class="c f4" style="left:696px;top:731px;width:54px;height:32px;line-height:33px">4</div>
<div class="c f4" style="left:750px;top:731px;width:54px;height:32px;line-height:33px">4</div>
<div class="c f4" style="left:804px;top:731px;width:53px;height:32px;line-height:33px">4</div>
<div class="c f3" style="left:857px;top:731px;width:54px;height:32px;line-height:33px">3</div>
<div class="c f3" style="left:911px;top:731px;width:54px;height:32px;line-height:33px">3</div>
<div class="c f3" style="left:965px;top:731px;width:54px;height:32px;line-height:33px">3</div>
<div class="c f2" style="left:1019px;top:731px;width:53px;height:32px;line-height:33px">2</div>
<div class="c f2" style="left:1072px;top:731px;width:54px;height:32px;line-height:33px">2</div>
<div class="c f2" style="left:1126px;top:731px;width:54px;height:32px;line-height:33px">2</div>
<div class="c f2" style="left:1180px;top:731px;width:54px;height:32px;line-height:33px">2</div>
<div class="c f2 l" style="left:1234px;top:731px;width:54px;height:32px;line-height:33px">2</div>
<div class="r" style="top:764px;height:32px;line-height:32px">东岗</div>
<div class="c f7" style="left:212px;top:763px;width:54px;height:32px;line-height:34px">7</div>
<div class="c f6" style="left:266px;top:763px;width:54px;height:32px;line-height:34px">6</div>
<div class="c f6" style="left:320px;top:763px;width:54px;height:32px;line-height:34px">6</div>
<div class="c f6" style="left:374px;top:763px;width:53px;height:32px;line-height:34px">6</div>
<div class="c f6" style="left:427px;top:763px;width:54px;height:32px;line-height:34px">6</div>
<div class="c f5" style="left:481px;top:763px;width:54px;height:32px;line-height:34px">5</div>
<div class="c f5" style="left:535px;top:763px;width:54px;height:32px;line-height:34px">5</div>
<div class="c f5" style="left:589px;top:763px;width:53px;height:32px;line-height:34px">5</div>
<div class="c f5" style="left:642px;top:763px;width:54px;height:32px;line-height:34px">5</div>
<div class="c f4" style="left:696px;top:763px;width:54px;height:32px;line-height:34px">4</div>
<div class="c f4" style="left:750px;top:763px;width:54px;height:32px;line-height:34px">4</div>
<div class="c f4" style="left:804px;top:763px;width:53px;height:32px;line-height:34px">4</div>
<div class="c f4" style="left:857px;top:763px;width:54px;height:32px;line-height:34px">4</div>
<div class="c f3" style="left:911px;top:763px;width:54px;height:32px;line-height:34px">3</div>
<div class="c f3" style="left:965px;top:763px;width:54px;height:32px;line-height:34px">3</div>
<div class="c f3" style="left:1019px;top:763px;width:53px;height:32px;line-height:34px">3</div>
<div class="c f2" style="left:1072px;top:763px;width:54px;height:32px;line-height:34px">2</div>
<div class="c f2" style="left:1126px;top:763px;width:54px;height:32px;line-height:34px">2</div>
<div class="c f2" style="left:1180px;top:763px;width:54px;height:32px;line-height:34px">2</div>
<div class="c f2 l" style="left:1234px;top:763px;width:54px;height:32px;line-height:34px">2</div>
<div class="lv"></div>
</div><div id="box"></div></body></html>
